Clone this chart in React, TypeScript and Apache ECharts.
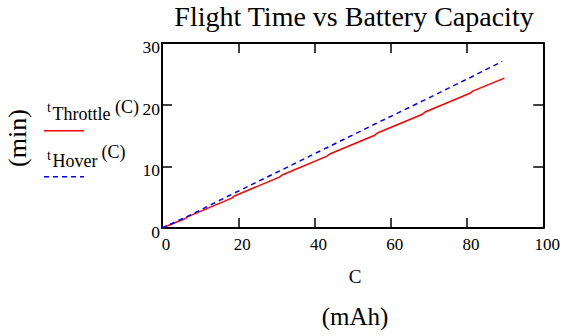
import React, { useEffect, useRef } from "react";
import * as echarts from "echarts";

const titleText = "Flight Time vs Battery Capacity";
const xName = "C";
const xUnit = "(mAh)";
const yUnit = "(min)";
const xTicks = [0, 20, 40, 60, 80, 100];
const yTicks = [0, 10, 20, 30];
const throttleC = [0, 6, 6.8, 18.3, 19, 30.8, 31.5, 43.3, 44, 55.8, 56.5, 68.3, 69, 80.8, 81.5, 89.8];
const throttleT = [0, 1.5, 1.85, 4.85, 5.2, 8.25, 8.6, 11.65, 12.0, 15.05, 15.4, 18.45, 18.8, 21.85, 22.2, 24.3];
const hoverC = [0, 6.4, 18.6, 31, 43.5, 56, 68.5, 81, 89.2];
const hoverT = [0, 1.8, 5.55, 9.3, 13.1, 16.9, 20.65, 24.45, 27.0];

const FONT = "Liberation Serif";

export default function App() {
  const ref = useRef<HTMLDivElement>(null);
  useEffect(() => {
    if (!ref.current) return;
    const chart = echarts.init(ref.current, undefined, { renderer: "svg" });
    const axisLine = { show: true, onZero: false, lineStyle: { color: "#000", width: 2 } };
    const axisTick = { show: true, inside: true, length: 10, lineStyle: { color: "#000", width: 1.5 } };
    const xBase = {
      type: "value" as const,
      min: xTicks[0],
      max: xTicks[xTicks.length - 1],
      interval: xTicks[1] - xTicks[0],
      splitLine: { show: false },
      axisLine,
      axisTick,
    };
    const yBase = {
      type: "value" as const,
      min: yTicks[0],
      max: yTicks[yTicks.length - 1],
      interval: yTicks[1] - yTicks[0],
      splitLine: { show: false },
      axisLine,
      axisTick,
    };
    const txt = (x: number, y: number, text: string, size: number, align = "left", rotation = 0) => ({
      type: "text",
      x,
      y,
      rotation,
      style: {
        text,
        fill: "#000",
        fontFamily: FONT,
        fontSize: size,
        align,
        verticalAlign: "middle",
      },
    });
    chart.setOption({
      animation: false,
      backgroundColor: "#fff",
      textStyle: { fontFamily: FONT },
      grid: { left: 162, right: 19, top: 43, bottom: 108, containLabel: false },
      xAxis: [
        {
          ...xBase,
          position: "bottom",
          axisLabel: { color: "#000", fontFamily: FONT, fontSize: 17, margin: 8, padding: [0, 0, 0, 8] },
        },
        { ...xBase, position: "top", axisLabel: { show: false } },
      ],
      yAxis: [
        {
          ...yBase,
          position: "left",
          axisLabel: {
            color: "#000",
            fontFamily: FONT,
            fontSize: 17.5,
            margin: 2,
            verticalAlign: "top",
            lineHeight: 8,
          },
        },
        { ...yBase, position: "right", axisLabel: { show: false } },
      ],
      series: [
        {
          type: "line",
          xAxisIndex: 0,
          yAxisIndex: 0,
          showSymbol: false,
          lineStyle: { color: "#ff0000", width: 1.5 },
          data: throttleC.map((c, i) => [c, throttleT[i]]),
        },
        {
          type: "line",
          xAxisIndex: 0,
          yAxisIndex: 0,
          showSymbol: false,
          lineStyle: { color: "#0000ff", width: 1.5, type: [5, 4] },
          data: hoverC.map((c, i) => [c, hoverT[i]]),
        },
      ],
      graphic: [
        txt(354, 16, titleText, 28, "center"),
        txt(355, 276.5, xName, 19, "center"),
        txt(355, 316.5, xUnit, 25, "center"),
        txt(17, 138, yUnit, 26, "center", Math.PI / 2),
        txt(47, 107, "t", 14),
        txt(52.5, 113.9, "Throttle", 18),
        txt(115, 107.4, "(C)", 18),
        { type: "line", shape: { x1: 44, y1: 130.7, x2: 84, y2: 130.7 }, style: { stroke: "#ff0000", lineWidth: 1.5 } },
        txt(47, 155.3, "t", 14),
        txt(52.5, 160.6, "Hover", 18),
        txt(101.5, 152.4, "(C)", 18),
        {
          type: "line",
          shape: { x1: 44, y1: 176.7, x2: 84, y2: 176.7 },
          style: { stroke: "#0000ff", lineWidth: 1.5, lineDash: [5, 4] },
        },
      ],
    });
    return () => chart.dispose();
  }, []);
  return (
    <div
      ref={ref}
      style={{ position: "fixed", left: 0, top: 0, width: 563, height: 336, background: "#fff" }}
    />
  );
}
